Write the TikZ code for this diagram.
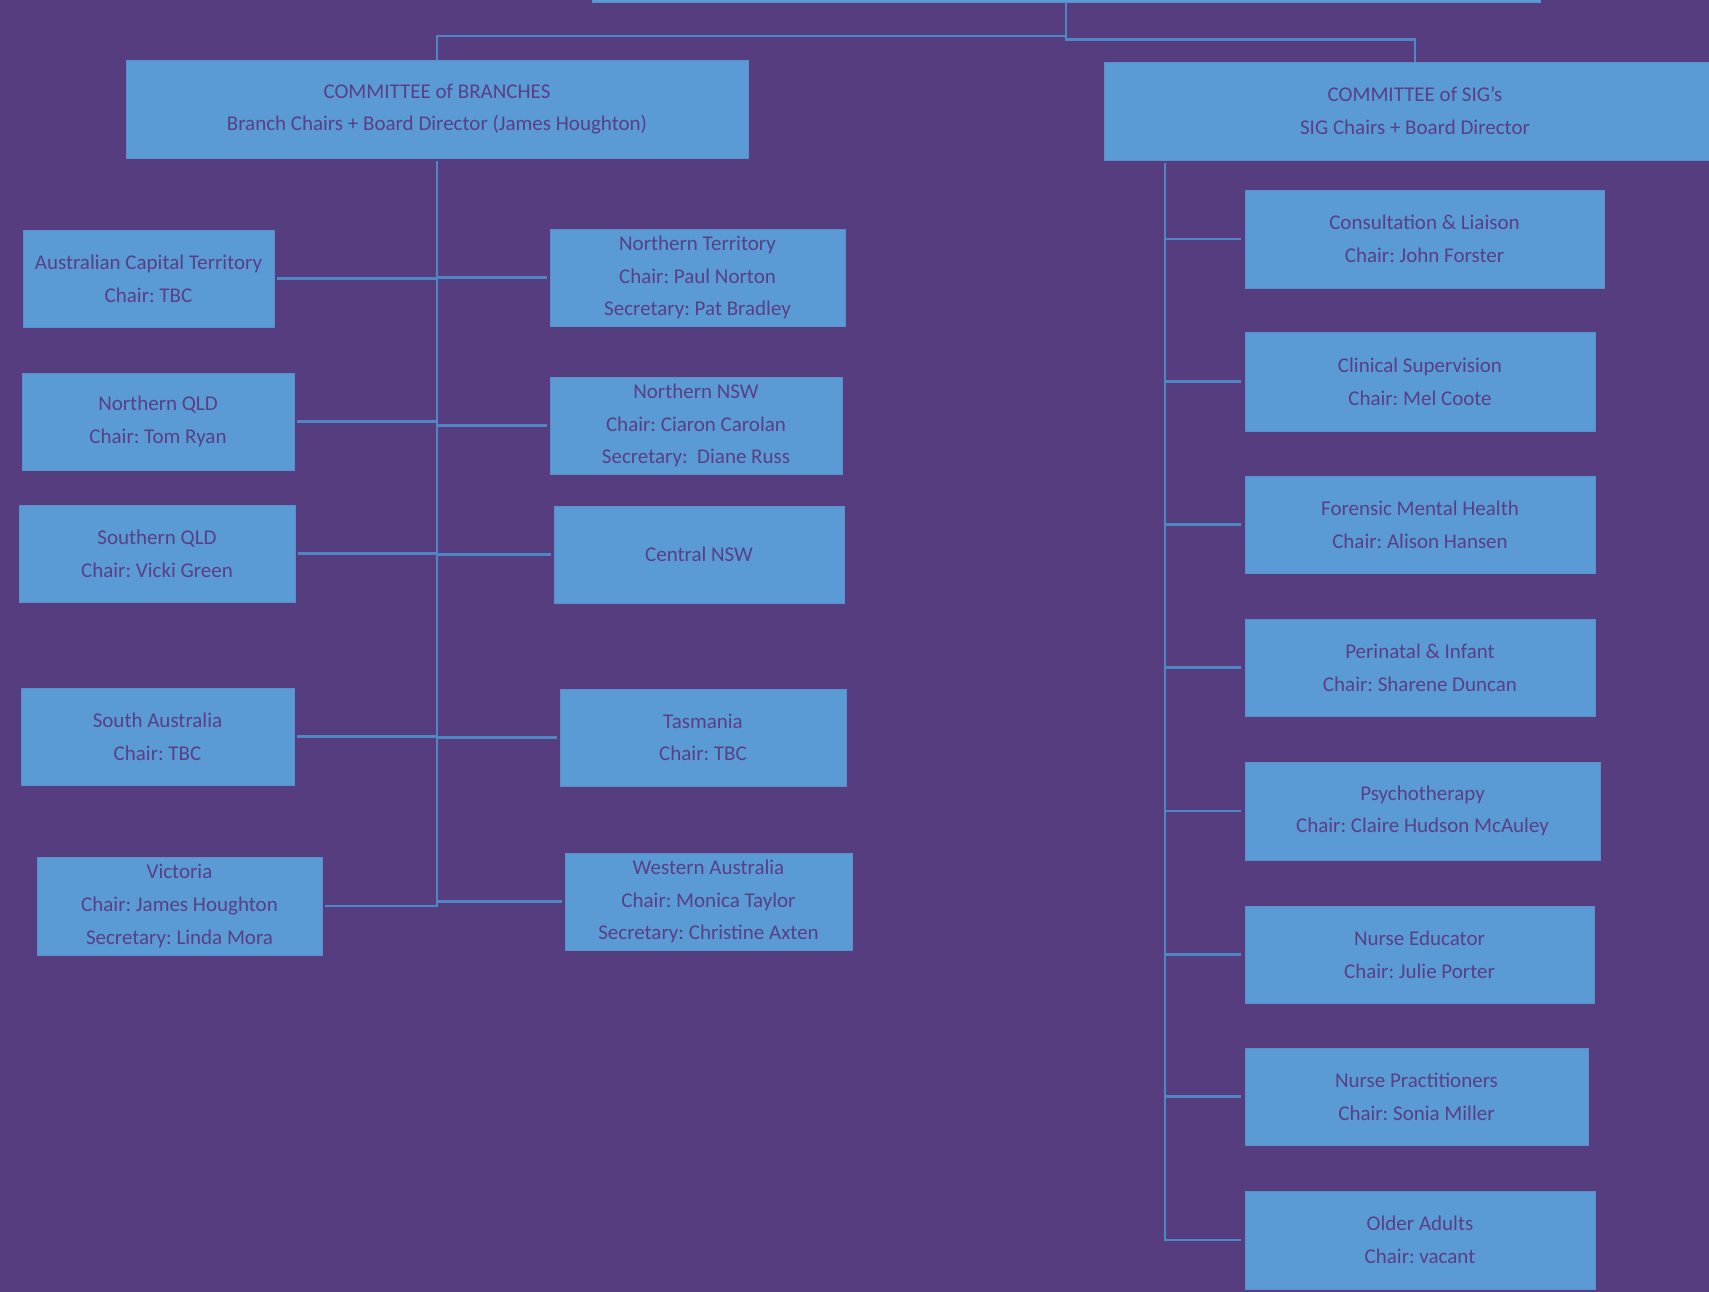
\documentclass[tikz,border=0pt]{standalone}
\usepackage{fontspec}
\setmainfont{Carlito}
\usetikzlibrary{positioning}

\definecolor{bgpurple}{HTML}{563D7F}
\definecolor{boxblue}{HTML}{5B9BD5}
\definecolor{boxedge}{HTML}{5A8FCC}
\definecolor{linkblue}{HTML}{4F87C4}
\definecolor{txtpurple}{HTML}{583F86}

\frenchspacing

\begin{document}
\begin{tikzpicture}[x=1pt,y=-1pt,
    box/.style={fill=boxblue, draw=boxedge, line width=0.8pt, align=center,
        text=txtpurple, font=\fontsize{21}{32.7}\selectfont,
        minimum height=97pt, inner sep=0pt},
    link/.style={draw=linkblue, line width=2.6pt}]

\useasboundingbox (0,0) rectangle (1709,1292);
\clip (0,0) rectangle (1709,1292);
\fill[bgpurple] (0,0) rectangle (1709,1292);

\node[box, minimum width=948pt, minimum height=40pt] (board) at (1066,-18) {};

\node[box, minimum width=622pt, minimum height=98pt] (cob) at (437,109)
    {COMMITTEE of BRANCHES\\Branch Chairs + Board Director (James Houghton)};
\node[box, minimum width=622pt, minimum height=98pt] (cos) at (1415,111)
    {COMMITTEE of SIG's\\SIG Chairs + Board Director};

% branches
\node[box, minimum width=251pt] (act)  at (148.5,278.5) {Australian Capital Territory\\Chair: TBC};
\node[box, minimum width=295pt] (nt)   at (697.5,277.5) {Northern Territory\\Chair: Paul Norton\\Secretary: Pat Bradley};
\node[box, minimum width=272pt] (nqld) at (158,421.5)   {Northern QLD\\Chair: Tom Ryan};
\node[box, minimum width=292pt] (nnsw) at (696,425.5)   {Northern NSW\\Chair: Ciaron Carolan\\Secretary:\ \ Diane Russ};
\node[box, minimum width=276pt] (sqld) at (157,553.5)   {Southern QLD\\Chair: Vicki Green};
\node[box, minimum width=290pt] (cnsw) at (699,554.5)   {Central NSW};
\node[box, minimum width=273pt] (sa)   at (157.5,736.5) {South Australia\\Chair: TBC};
\node[box, minimum width=286pt] (tas)  at (703,737.5)   {Tasmania\\Chair: TBC};
\node[box, minimum width=285pt, minimum height=98pt] (vic) at (179.5,906) {Victoria\\Chair: James Houghton\\Secretary: Linda Mora};
\node[box, minimum width=287pt] (wa)   at (708.5,901.5) {Western Australia\\Chair: Monica Taylor\\Secretary: Christine Axten};

% special interest groups
\node[box, minimum width=359pt, minimum height=98pt] (cl)  at (1424.5,239)  {Consultation \& Liaison\\Chair: John Forster};
\node[box, minimum width=350pt, minimum height=99pt] (cs)  at (1420,381.5)  {Clinical Supervision\\Chair: Mel Coote};
\node[box, minimum width=350pt] (fmh) at (1420,524.5)  {Forensic Mental Health\\Chair: Alison Hansen};
\node[box, minimum width=350pt] (pi)  at (1420,667.5)  {Perinatal \& Infant\\Chair: Sharene Duncan};
\node[box, minimum width=355pt, minimum height=98pt] (psy) at (1422.5,811) {Psychotherapy\\Chair: Claire Hudson McAuley};
\node[box, minimum width=349pt] (ne)  at (1419.5,954.5) {Nurse Educator\\Chair: Julie Porter};
\node[box, minimum width=343pt] (np)  at (1416.5,1096.5) {Nurse Practitioners\\Chair: Sonia Miller};
\node[box, minimum width=350pt, minimum height=98pt] (oa)  at (1420,1240) {Older Adults\\Chair: vacant};

\coordinate (split) at (1066,36);
\coordinate (rtop) at (1165,163);

\draw[link] (board.south) -- (split) -| (cob.north);
\draw[link] (split) -- (1066,39.5) -| (cos.north);

\draw[link, shorten <=3pt] (cob.south) -- (cob.south |- vic.east) -- ([xshift=3pt]vic.east);
\foreach \b in {act,nqld,sqld,sa}
    \draw[link, shorten <=3pt] (\b.east) -- (\b.east -| cob.south);
\foreach \b in {nt,nnsw,cnsw,tas,wa}
    \draw[link, shorten >=3pt] (\b.west -| cob.south) -- (\b.west);

\draw[link] (rtop) -- (rtop |- oa.west) -- ([xshift=-4pt]oa.west);
\foreach \b in {cl,cs,fmh,pi,psy,ne,np}
    \draw[link, shorten >=4pt] (\b.west -| rtop) -- (\b.west);

\end{tikzpicture}
\end{document}
